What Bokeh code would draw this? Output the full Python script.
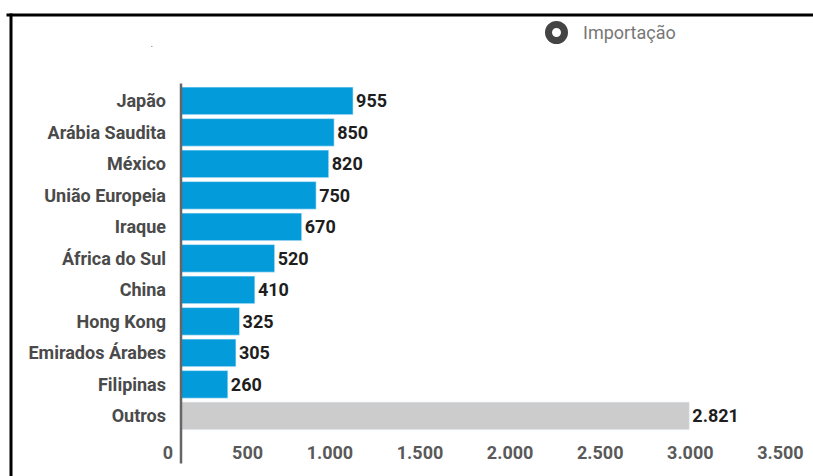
from bokeh.plotting import figure
from bokeh.models import ColumnDataSource, BoxAnnotation, Legend, LegendItem, Label
from bokeh.core.properties import value
from bokeh.embed import file_html
from bokeh.resources import INLINE

categories = ["Japão", "Arábia Saudita", "México", "União Europeia", "Iraque",
              "África do Sul", "China", "Hong Kong", "Emirados Árabes", "Filipinas", "Outros"]
values = [955, 850, 820, 750, 670, 520, 410, 325, 305, 260, 2821]
bar_colors = ["#049bdb"] * 10 + ["#cccccc"]
x_ticks = [0, 500, 1000, 1500, 2000, 2500, 3000, 3500]
legend_label = "Importação"

def fmt(v):
    return f"{v:,}".replace(",", ".")

FONT = "Roboto"
W, H = 813, 476
# layout (pixels): value 0 at x0, px per unit, category pitch and position of last category
X0, PX = 180.5, 0.1802
Y_LAST, PITCH = 415.4, 31.5
n = len(categories)
ypos = [n - 1 - i for i in range(n)]

p = figure(width=W, height=H, output_backend="svg", toolbar_location=None,
           x_range=(-X0 / PX, (W - X0) / PX),
           y_range=(-(H - Y_LAST) / PITCH, Y_LAST / PITCH),
           x_axis_location=None, y_axis_location=None,
           min_border=0, min_border_left=0, min_border_right=0,
           min_border_top=0, min_border_bottom=0)
p.outline_line_color = None
p.xgrid.visible = False
p.ygrid.visible = False
p.background_fill_color = "white"
p.border_fill_color = "white"

src = ColumnDataSource(dict(y=ypos, cat=categories, val=values, color=bar_colors,
                            lbl=[fmt(v) for v in values], zero=[0] * n))
p.hbar(y="y", right="val", left=0, height=0.876, fill_color="color",
       line_color="#e8f4fb", line_width=0.6, source=src)
# value labels
p.text(x="val", y="y", text="lbl", source=src, x_offset=3,
       text_align="left", text_baseline="middle", text_font=value(FONT),
       text_font_style="bold", text_font_size="18px", text_color="#1e1e1e")
# category labels (y axis)
p.text(x="zero", y="y", text="cat", source=src, x_offset=-15,
       text_align="right", text_baseline="middle", text_font=value(FONT),
       text_font_style="bold", text_font_size="18px", text_color="#4a4a4a")
# y axis line
p.segment(x0=[0], y0=[n - 1 + 0.55], x1=[0], y1=[-1.51],
          line_color="#666666", line_width=2.5)
# x tick labels
tsrc = ColumnDataSource(dict(x=x_ticks, y=[-1] * len(x_ticks), t=[fmt(v) for v in x_ticks]))
p.text(x="x", y="y", text="t", source=tsrc, x_offset=-8, y_offset=5,
       text_align="right", text_baseline="middle", text_font=value(FONT),
       text_font_style="bold", text_font_size="18px", text_color="#595959")

dummy = p.scatter(x=[-5000], y=[-50], size=16, marker="circle",
                  fill_color="white", line_color="#444444", line_width=7)
legend = Legend(items=[LegendItem(label=legend_label, renderers=[dummy])],
                location=(536, 424), orientation="horizontal",
                glyph_width=40, glyph_height=40, padding=0, margin=0,
                label_standoff=7, border_line_color=None, background_fill_alpha=0,
                label_text_font=FONT, label_text_font_size="18px",
                label_text_color="#777777")
p.add_layout(legend, "center")

p.add_layout(BoxAnnotation(left=9, right=12, top=13, bottom=476,
                           left_units="canvas", right_units="canvas",
                           top_units="canvas", bottom_units="canvas",
                           fill_color="black", fill_alpha=1, line_color=None))
p.add_layout(BoxAnnotation(left=6, right=813, top=13, bottom=16,
                           left_units="canvas", right_units="canvas",
                           top_units="canvas", bottom_units="canvas",
                           fill_color="black", fill_alpha=1, line_color=None))
p.add_layout(Label(x=150, y=46, x_units="canvas", y_units="canvas", text=".",
                   text_font=FONT, text_font_size="10px", text_color="#777777"))

open("out.html", "w").write(file_html(p, INLINE))
